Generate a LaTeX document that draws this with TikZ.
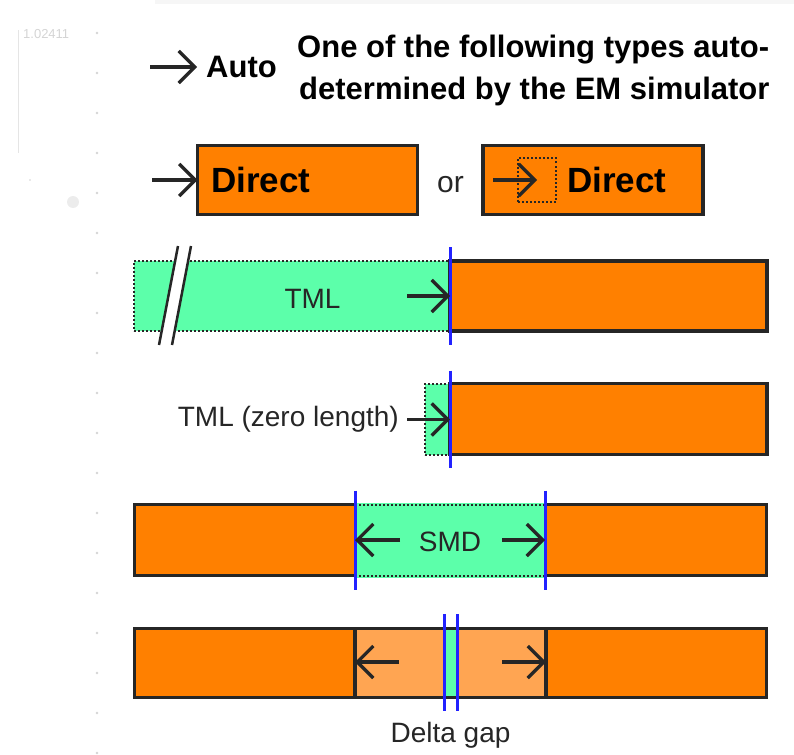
\documentclass[tikz,border=0pt]{standalone}
\usepackage{fontspec}
\setmainfont{Liberation Sans}
\usetikzlibrary{arrows.meta}

\definecolor{padorange}{HTML}{FF8000}
\definecolor{gaporange}{HTML}{FFA552}
\definecolor{tmlgreen}{HTML}{5CFFAA}
\definecolor{refblue}{HTML}{2222FF}
\definecolor{edge}{HTML}{262626}
\definecolor{faint}{HTML}{D4D4D4}

\tikzset{
  stripbox/.style={draw=edge, line width=3.5pt, fill=padorange, inner sep=0pt, outer sep=0pt},
  greenbox/.style={fill=tmlgreen, inner sep=0pt, outer sep=0pt},
  dotedge/.style={draw=edge, line width=2pt, dash pattern=on 2pt off 2pt},
  refplane/.style={draw=refblue, line width=3pt},
  feed/.style={draw=edge, line width=3.2pt,
    -{Straight Barb[length=16pt,width=32pt,line width=3.2pt]}},
  boldtxt/.style={font=\bfseries\fontsize{31}{36}\selectfont, text=black, inner sep=0pt},
  directtxt/.style={font=\bfseries\fontsize{35}{40}\selectfont, text=black, inner sep=0pt},
  plaintxt/.style={font=\fontsize{28}{33}\selectfont, text=edge, inner sep=0pt},
}

\begin{document}
\begin{tikzpicture}[x=1pt, y=-1pt]
\useasboundingbox (0,0) rectangle (794,754);

% faint screen leftovers at the edges
\fill[gray!7] (155,0) rectangle (794,4);
\draw[faint!60, line width=1pt] (18,30) -- (18,153);
\node[font=\fontsize{13}{15}\selectfont, text=faint, anchor=base west, inner sep=0pt] (ruler) at (23,39) {1.02411};
\foreach \k in {0,...,18} { \fill[faint] (97,33+40*\k) circle (1.3); }
\fill[gray!15] (73,202) circle (6);
\fill[faint!70] (30,180) circle (1.2);

% ---- Auto legend
\coordinate (autotail) at (150,67);
\coordinate (autotip) at (197,67);
\draw[feed] (autotail) -- (autotip);
\node[boldtxt, anchor=base west] (autolabel) at (206,78) {Auto};
\node[boldtxt, anchor=base west] (desc1) at (297,58) {One of the following types auto-};
\node[boldtxt, anchor=base west] (desc2) at (299,100) {determined by the EM simulator};

% ---- Direct port styles
\node[stripbox, minimum width=220pt, minimum height=69pt] (direct1) at (307.5,180) {};
\node[directtxt, anchor=base west] (directlabel1) at (211,192) {Direct};
\coordinate (d1tail) at (152,180);
\draw[feed] (d1tail) -- (direct1.west);

\node[font=\fontsize{30}{34}\selectfont, text=edge, inner sep=0pt, anchor=base west] (orlabel) at (437,192) {or};

\node[stripbox, minimum width=220pt, minimum height=69pt] (direct2) at (593,180) {};
\node[dotedge, minimum width=38pt, minimum height=43pt, inner sep=0pt, outer sep=0pt] (probe) at (537,180) {};
\coordinate (d2tail) at (493,180);
\draw[feed] (d2tail) -- (probe.center);
\node[directtxt, anchor=base west] (directlabel2) at (567,192) {Direct};

% ---- TML port
\node[greenbox, dotedge, minimum width=316pt, minimum height=70pt] (tmlline) at (292,296) {};
\node[stripbox, minimum width=317pt, minimum height=70pt] (tmlport) at (608.5,296) {};
\draw[refplane] ([yshift=14pt]tmlport.north west) -- ([yshift=-14pt]tmlport.south west);
\fill[white] (178,246) -- (191,246) -- (172,345) -- (159,345) -- cycle;
\draw[edge, line width=2.5pt] (178,246) -- (159,345);
\draw[edge, line width=2.5pt] (191,246) -- (172,345);
\node[plaintxt, anchor=base] (tmllabel) at (312.5,308) {TML};
\coordinate (tmltail) at (407,296);
\draw[feed] (tmltail) -- (tmlport.west);

% ---- TML of zero length
\node[greenbox, dotedge, minimum width=25pt, minimum height=71pt] (zeroline) at (437.5,419) {};
\node[stripbox, minimum width=317pt, minimum height=71pt] (zeroport) at (608.5,419) {};
\draw[refplane] ([yshift=13pt]zeroport.north west) -- ([yshift=-13pt]zeroport.south west);
\node[plaintxt, anchor=east] (zerolabel) at (399,419.5) {TML (zero length)};
\draw[feed] ([xshift=8pt]zerolabel.east) -- (zerolabel.east -| zeroport.west);

% ---- SMD port
\node[stripbox, minimum width=632pt, minimum height=71pt] (smdstrip) at (450.5,540) {};
\node[greenbox, minimum width=190pt, minimum height=75pt] (smd) at (450,540) {};
\draw[dotedge] (smd.west |- smdstrip.north) -- (smd.east |- smdstrip.north);
\draw[dotedge] (smd.west |- smdstrip.south) -- (smd.east |- smdstrip.south);
\draw[refplane] ([yshift=14pt]smd.west |- smdstrip.north) -- ([yshift=-14pt]smd.west |- smdstrip.south);
\draw[refplane] ([yshift=14pt]smd.east |- smdstrip.north) -- ([yshift=-14pt]smd.east |- smdstrip.south);
\node[plaintxt, anchor=base] (smdlabel) at (450,551) {SMD};
\coordinate (smdltail) at (400,540);
\coordinate (smdrtail) at (502,540);
\draw[feed] (smdltail) -- (smd.west);
\draw[feed] (smdrtail) -- (smd.east);

% ---- Delta gap port
\node[stripbox, minimum width=632pt, minimum height=69pt] (gapstrip) at (450.5,663) {};
\node[stripbox, fill=gaporange, minimum width=191pt, minimum height=69pt] (gapbox) at (450.5,663) {};
\node[greenbox, minimum width=13pt, minimum height=66pt] (gapcell) at (450.5,663) {};
\draw[dotedge] (gapcell.west |- gapbox.north) -- (gapcell.east |- gapbox.north);
\draw[dotedge] (gapcell.west |- gapbox.south) -- (gapcell.east |- gapbox.south);
\draw[refplane] ([yshift=16pt]gapcell.north west) -- ([yshift=-15pt]gapcell.south west);
\draw[refplane] ([yshift=16pt]gapcell.north east) -- ([yshift=-15pt]gapcell.south east);
\coordinate (gapltail) at (399,662);
\coordinate (gaprtail) at (502,662);
\draw[feed] (gapltail) -- (gapltail -| gapbox.west);
\draw[feed] (gaprtail) -- (gaprtail -| gapbox.east);
\node[plaintxt, anchor=base] (gaplabel) at (450.5,742) {Delta gap};

\end{tikzpicture}
\end{document}
